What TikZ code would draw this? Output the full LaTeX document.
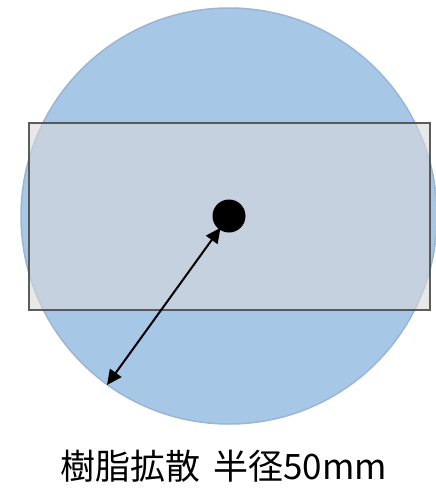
\documentclass[tikz,border=0pt]{standalone}
\usepackage{fontspec}
\newfontfamily\cjk{Noto Sans CJK JP}
\usetikzlibrary{arrows.meta}
\definecolor{azul}{HTML}{A7C7E7}
\definecolor{bordeazul}{HTML}{9CB5D2}

\begin{document}
\begin{tikzpicture}[x=1pt,y=-1pt,line width=2pt,>={Triangle[length=15pt,width=14pt]}]
  \useasboundingbox (0,0) rectangle (436,488);
  % zona de difusion
  \draw[bordeazul,fill=azul,line width=1.5pt] (229,216) circle (208);
  % pieza (semitransparente)
  \draw[black!70,draw opacity=0.9,line width=2.2pt,fill=black!15,fill opacity=0.6] (29,123) rectangle (430,310);
  % punto de inyeccion y radio
  \node[circle,fill=black,inner sep=0pt,minimum size=33pt] (centro) at (229,216) {};
  \coordinate (borde) at (107,385);
  \draw[<->,shorten <=-3pt] (centro) -- (borde);
  \node[font=\cjk\fontsize{35}{40}\selectfont] (rotulo) at (224,466) {樹脂拡散\hspace{5pt} 半径50mm};
\end{tikzpicture}
\end{document}
